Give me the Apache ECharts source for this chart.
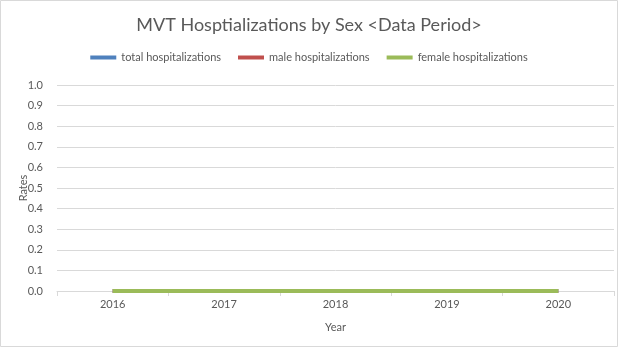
<!DOCTYPE html>
<html>
<head>
<meta charset="utf-8">
<script src="https://cdn.jsdelivr.net/npm/echarts@6/dist/echarts.min.js"></script>
<style>
  html, body { margin: 0; padding: 0; background: #fff; }
  #chart { width: 618px; height: 347px; }
</style>
</head>
<body>
<div id="chart"></div>
<script>
// Hospitalization rates per year
const years = ['2016', '2017', '2018', '2019', '2020'];
const totalHosp = [0, 0, 0, 0, 0];
const maleHosp = [0, 0, 0, 0, 0];
const femaleHosp = [0, 0, 0, 0, 0];

const FONT = 'Lato, "Open Sans", sans-serif';
const chart = echarts.init(document.getElementById('chart'), null, { renderer: 'canvas' });

const lineSeries = (name, data, color) => ({
  name, type: 'line', data,
  symbol: 'none',
  lineStyle: { color, width: 4, cap: 'butt' },
  itemStyle: { color },
  animation: false
});

chart.setOption({
  animation: false,
  textStyle: { fontFamily: FONT },
  graphic: [{
    type: 'rect',
    shape: { x: 0.5, y: 0.5, width: 617, height: 346 },
    style: { fill: 'none', stroke: '#d9d9d9', lineWidth: 1 },
    silent: true
  }],
  title: {
    text: 'MVT Hosptializations by Sex <Data Period>',
    left: 'center',
    top: 11,
    textStyle: { fontFamily: FONT, fontSize: 18, fontWeight: 'normal', color: '#595959' }
  },
  legend: {
    top: 47,
    left: 'center',
    icon: 'rect',
    itemWidth: 26,
    itemHeight: 4,
    itemGap: 17,
    textStyle: { fontFamily: FONT, fontSize: 11, color: '#595959' },
    data: ['total hospitalizations', 'male hospitalizations', 'female hospitalizations']
  },
  grid: { left: 57, right: 4, top: 85, bottom: 56, containLabel: false },
  xAxis: {
    type: 'category',
    data: years,
    boundaryGap: true,
    name: 'Year',
    nameLocation: 'middle',
    nameGap: 31,
    nameMoveOverlap: false,
    nameTextStyle: { fontFamily: FONT, fontSize: 11, color: '#595959' },
    axisLine: { lineStyle: { color: '#d9d9d9' } },
    axisTick: { show: true, length: 5, lineStyle: { color: '#d9d9d9' } },
    axisLabel: { fontFamily: FONT, fontSize: 11, color: '#595959', margin: 8 },
    splitLine: { show: false }
  },
  yAxis: {
    type: 'value',
    min: 0,
    max: 1,
    interval: 0.1,
    name: 'Rates',
    nameLocation: 'middle',
    nameGap: 28,
    nameMoveOverlap: false,
    nameRotate: 90,
    nameTextStyle: { fontFamily: FONT, fontSize: 11, color: '#595959' },
    axisLine: { show: false },
    axisTick: { show: false },
    axisLabel: {
      fontFamily: FONT, fontSize: 11, color: '#595959', margin: 14,
      formatter: v => v.toFixed(1)
    },
    splitLine: { lineStyle: { color: '#d9d9d9' } }
  },
  series: [
    lineSeries('total hospitalizations', totalHosp, '#4F81BD'),
    lineSeries('male hospitalizations', maleHosp, '#C0504D'),
    lineSeries('female hospitalizations', femaleHosp, '#9BBB59')
  ]
});
</script>
</body>
</html>
